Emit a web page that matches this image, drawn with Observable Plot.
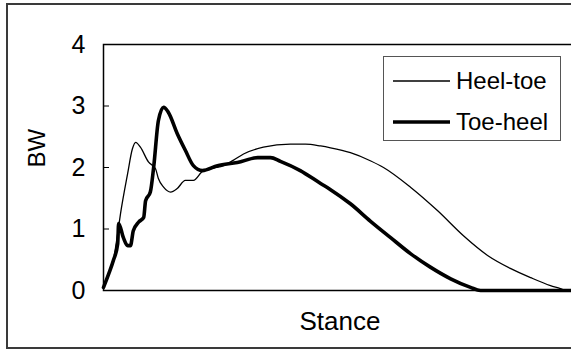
<!DOCTYPE html>
<html>
<head>
<meta charset="utf-8">
<script src="https://cdn.jsdelivr.net/npm/d3@7"></script>
<script src="https://cdn.jsdelivr.net/npm/@observablehq/plot@0.6"></script>
<style>
html, body { margin: 0; padding: 0; background: #fff; overflow: hidden; width: 571px; height: 349px; }
#wrap { position: relative; width: 571px; height: 349px; font-family: "Liberation Sans", Arial, sans-serif; overflow: hidden; }
#box { position: absolute; left: 6px; top: 3px; width: 640px; height: 346px; box-sizing: border-box; border: 2px solid #3a3a3a; }
#chart { position: absolute; left: 0; top: 0; width: 590px; height: 349px; }
#chart svg { max-width: none !important; width: 590px; height: 349px; }
#legend { position: absolute; left: 383px; top: 56px; width: 178px; height: 85px; box-sizing: border-box; border: 1px solid #555; background: #fff; z-index: 2; }
.row { position: absolute; left: 9px; display: flex; align-items: center; font-size: 24px; color: #000; line-height: 24px; }
.row svg { margin-right: 6px; }
</style>
</head>
<body>
<div id="wrap">
  <div id="box"></div>
  <div id="chart"></div>
  <div id="legend"></div>
</div>
<script>
// Series names (legend order)
const seriesNames = ["Heel-toe", "Toe-heel"];

// Heel-toe: stance (% of plotted range) and force (BW)
const stanceHeelToe = [0, 1.1, 2.1, 2.75, 3.6, 5.1, 6.1, 6.8, 7.8, 9.5, 11.0, 11.6, 12.7, 14.2, 15.6, 17.3, 19.0, 21.1, 23.3, 25.4, 27.5, 29.6, 33.8, 39.5, 42.7, 45.9, 48.0, 52.2, 56.4, 59.2, 64.9, 70.6, 76.1, 81.2, 86.0, 90.3, 94.5, 96.6, 97.7, 100];
const bwHeelToe     = [0.05, 0.27, 0.49, 0.80, 1.25, 1.90, 2.30, 2.41, 2.33, 2.09, 1.98, 1.82, 1.68, 1.60, 1.66, 1.79, 1.79, 1.95, 1.99, 2.03, 2.12, 2.22, 2.33, 2.38, 2.38, 2.35, 2.32, 2.24, 2.11, 2.00, 1.68, 1.30, 0.89, 0.57, 0.36, 0.21, 0.08, 0.03, 0, 0];

// Toe-heel
const stanceToeHeel = [0, 1.1, 2.1, 3.0, 3.2, 4.2, 5.1, 5.7, 6.3, 7.4, 8.5, 8.9, 9.9, 10.6, 11.6, 12.7, 13.7, 15.6, 17.3, 19.0, 20.9, 24.1, 28.3, 32.6, 35.3, 37.4, 41.6, 45.9, 48.0, 52.2, 56.4, 60.7, 64.9, 69.1, 73.4, 77.6, 79.7, 100];
const bwToeHeel     = [0.05, 0.27, 0.49, 0.76, 1.09, 0.86, 0.73, 0.73, 0.97, 1.11, 1.19, 1.46, 1.60, 2.0, 2.76, 2.98, 2.90, 2.55, 2.28, 2.03, 1.95, 2.03, 2.08, 2.16, 2.16, 2.10, 1.95, 1.74, 1.64, 1.41, 1.13, 0.86, 0.60, 0.38, 0.19, 0.05, 0, 0];

// Axis ticks / labels
const yTicks = [0, 1, 2, 3, 4];
const yLabel = "BW";
const xLabel = "Stance";

const rowsHT = stanceHeelToe.map((s, i) => ({stance: s, bw: bwHeelToe[i]}));
const rowsTH = stanceToeHeel.map((s, i) => ({stance: s, bw: bwToeHeel[i]}));

const widths = [1.3, 3.6];

const chart = Plot.plot({
  width: 590,
  height: 349,
  marginLeft: 103,
  marginTop: 44,
  marginBottom: 59,
  marginRight: 14,
  style: {fontFamily: "'Liberation Sans', Arial, sans-serif", fontSize: "24px", background: "transparent", color: "#000", maxWidth: "none"},
  x: {domain: [0, 100], axis: null},
  y: {domain: [0, 4]},
  marks: [
    Plot.frame({stroke: "#000", strokeWidth: 1.5}),
    Plot.axisY(yTicks, {tickSize: 6, dx: 6, tickFormat: () => "", label: null, strokeWidth: 1}),
    Plot.axisY(yTicks, {tickSize: 0, tickPadding: 18, label: null, fontSize: 25, tickFormat: d3.format("d")}),
    Plot.text([yLabel], {text: d => d, frameAnchor: "left", dx: -66, rotate: -90, fontSize: 24}),
    Plot.text([xLabel], {text: d => d, frameAnchor: "bottom", dy: 31, lineAnchor: "middle", fontSize: 26}),
    Plot.line(rowsHT, {x: "stance", y: "bw", stroke: "#000", strokeWidth: widths[0], curve: "monotone-x"}),
    Plot.line(rowsTH, {x: "stance", y: "bw", stroke: "#000", strokeWidth: widths[1], curve: "monotone-x", strokeLinejoin: "round"})
  ]
});
document.getElementById("chart").appendChild(chart);

// Legend
const legend = document.getElementById("legend");
const rowTops = [12, 53];
seriesNames.forEach((name, i) => {
  const row = document.createElement("div");
  row.className = "row";
  row.style.top = rowTops[i] + "px";
  row.innerHTML = `<svg width="57" height="10"><line x1="0" x2="57" y1="5" y2="5" stroke="#000" stroke-width="${widths[i]}"/></svg><span>${name}</span>`;
  legend.appendChild(row);
});
</script>
</body>
</html>
